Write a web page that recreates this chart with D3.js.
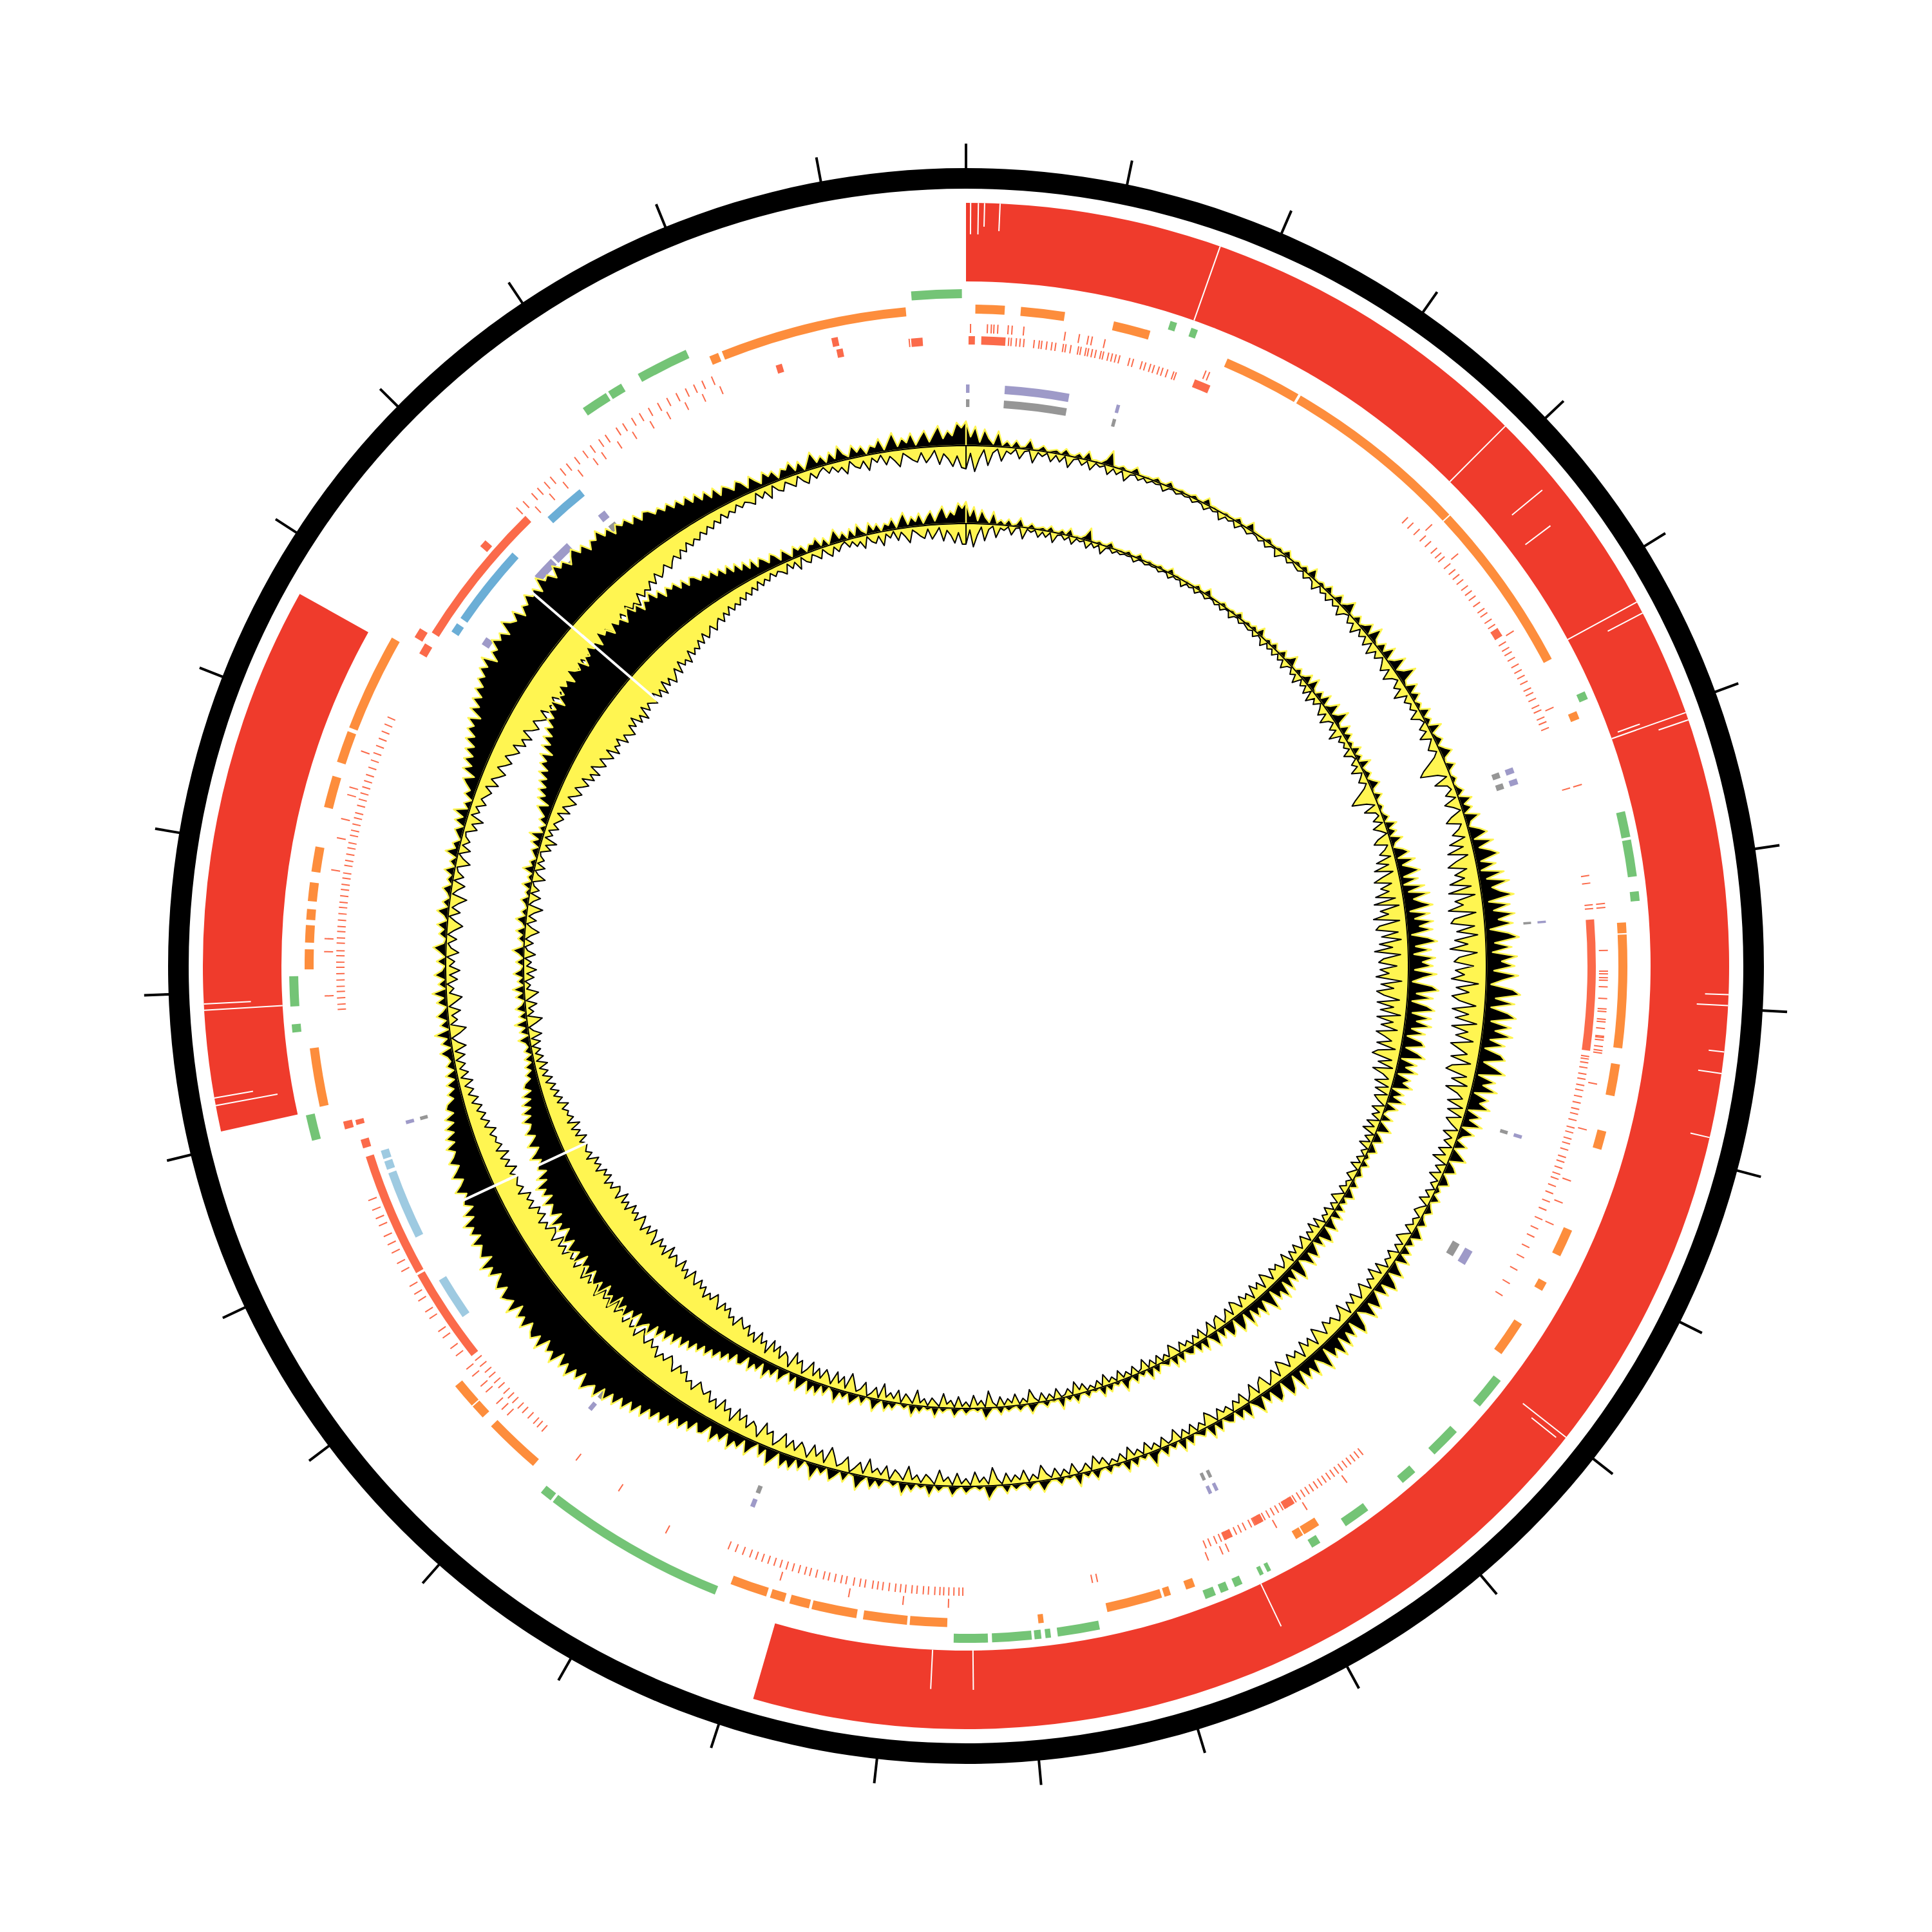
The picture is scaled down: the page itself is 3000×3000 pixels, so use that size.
<!DOCTYPE html>
<html>
<head>
<meta charset="utf-8">
<script src="https://d3js.org/d3.v7.min.js"></script>
<style>
  html, body { margin: 0; padding: 0; background: #fff; }
  svg { display: block; }
</style>
</head>
<body>
<script>
// genome length and tick spacing, kb
var genomeLen = 3090;
var tickStep = 100;

// blast hit band: blocks and missing hairlines [kb, from, to] (fraction of band depth)
var redBlocks = [[0, 1684], [2210, 2568]];
var redGaps = [[3,0.6,1],[8,0.6,1],[12,0.7,1],[22,0.65,1],[167,0,1],[386,0,1],[433,0.3,0.8],[455,0.2,0.6],
  [528,0,1],[536,0.5,1],[603,0.1,0.4],[606,0,1],[611,0.6,1],[791,0.7,1],[798,0.6,1],[828,0.8,1],[842,0.7,1],
  [884,0.75,1],[1100,0.3,1],[1104,0.5,0.9],[1326,0,0.6],[1540,0,0.5],[1569,0,0.5],[2227,0.2,1],[2232,0.5,1],
  [2289,0,1],[2293,0.4,1]];

var greenBlocks = [[3050,3087],[151,156],[167,172],[567,573],[659,678],[680,707],[718,725],[1097,1121],[1146,1169],
  [1188,1200],[1232,1252],[1274,1281],[1315,1318],[1321,1324],[1338,1344],[1349,1355],[1359,1367],[1447,1478],
  [1483,1487],[1490,1495],[1497,1526],[1529,1554],[1732,1868],[1870,1879],[2189,2208],[2269,2275],[2288,2310],
  [2794,2814],[2816,2827],[2841,2880]];

var orangeBlocks = [[7,29],[41,74],[111,139],[200,259],[261,403],[404,535],[578,584],[740,748],[749,834],[846,870],
  [897,911],[975,996],[1018,1025],[1054,1081],[1268,1281],[1282,1288],[1371,1378],[1390,1395],[1397,1439],[1487,1491],
  [1559,1587],[1589,1622],[1627,1661],[1663,1678],[1682,1693],[1696,1724],[1896,1939],[1948,1959],[1960,1979],
  [2212,2256],[2315,2330],[2335,2348],[2352,2360],[2366,2380],[2388,2407],[2437,2461],[2472,2496],[2499,2573],
  [2894,2901],[2904,3045]];

var tomatoOuterBlocks = [[2191,2197],[2582,2590],[2668,2674],[2986,2991]];
var tomatoOuterTicks = [3,16,19,21,24,32,35,44,76,87,94,97,107,188,191,399,429,502,568,631,724,727,
  760,776,778,781,783,788,797,805,807,813,815,820,826,827,829,834,837,839,863,899,940,958,976,
  1232,1269,1296,1337,1342,1354,1558,1593,1635,1689,1784,
  1936,1942,1948,1960,1966,1976,1983,1996,2003,2013,2019,2031,2037,2047,2053,2060,2073,2080,2089,2096,2103,2112,2118,2125,2133,
  2294,2328,2338,2391,2416,2431,2450,2456,2485,
  2708,2715,2724,2730,2737,2743,2753,2759,2767,2775,2782,2790,2796,2806,2812,2820,2827,2835,2843,2851,2859,2867,2874,2881,2889];

var tomatoInnerBlocks = [[2,7],[12,31],[183,196],[494,501],[736,839],[1275,1284],[1303,1310],[1330,1337],
  [1989,2065],[2067,2166],[2173,2180],[2192,2196],[2573,2582],[2592,2709],[2939,2944],[2988,2993],[3047,3056]];
var tomatoInnerTicks = [33,35,39,42,45,53,57,59,63,67,70,76,78,82,88,90,94,96,99,102,106,108,112,115,118,121,129,132,
  139,142,146,149,153,156,160,165,167,
  382,388,395,402,408,415,420,424,431,437,442,447,453,458,463,469,475,479,485,490,494,500,506,511,515,520,526,531,536,
  541,547,551,556,562,566,572,576,581,631,701,707,724,727,
  843,845,848,852,857,861,866,870,875,880,885,889,894,900,904,909,913,918,924,928,933,938,942,948,954,961,968,976,984,
  991,1000,1009,1020,1032,1043,
  1209,1213,1217,1221,1225,1229,1233,1237,1241,1245,1249,1253,1257,1261,1265,1269,1273,1277,1281,1285,1289,1293,1297,
  1301,1305,1310,1313,1318,1322,1326,1330,1335,1339,1343,1348,1352,1441,1445,
  1547,1550,1554,1558,1562,1565,1569,1574,1578,1583,1587,1592,1596,1600,1605,1610,1614,1618,1624,1628,1633,1639,1643,
  1648,1653,1657,1663,1668,1672,1677,1682,1687,1692,1697,1702,1707,1712,1717,1723,1729,1735,1832,1873,
  1908,1913,1917,1923,1929,1934,1940,1945,1950,1956,1961,1967,1972,1978,1984,
  2283,2287,2292,2297,2301,2306,2311,2316,2320,2325,2329,2335,2339,2344,2348,2353,2358,2363,2367,2372,2377,2381,2386,
  2390,2396,2400,2405,2410,2414,2420,2424,2429,2434,2438,2444,2449,2454,2459,2464,2469,2475,2481,2487,2493,2499,2505,
  2511,2517,2719,2734,2748,2763,2778,2786,2801,2815,2831,2846,2862,2877,2892,3045];

var blueBlocks = [[2601,2609],[2614,2681],[2721,2755]];
var lightBlueBlocks = [[2018,2053],[2092,2148],[2151,2158],[2160,2167]];

var purpleBlocks = [[0,3],[33,88],[129,132],[601,606],[611,616],[734,736],[918,921],[1025,1038],[1324,1327],[1330,1333],
  [1728,1732],[1889,1893],[2182,2185],[2606,2613],[2679,2699],[2701,2718],[2753,2760]];
var grayBlocks = [[0,3],[33,88],[129,132],[601,606],[611,616],[734,736],[918,921],[1025,1037],[1324,1327],[1330,1333],
  [1728,1732],[1889,1893],[2182,2185],[2606,2613],[2679,2698],[2701,2717],[2754,2761]];

// skew plots: outward / inward extent (px) per 1/720 of the genome, one row = 10 bins
var skewOuterPos = [
38,14,30,6,26,12,4,24,3,10, 2,12,3,4,16,2,3,9,2,4, 6,2,10,3,2,8,2,14,2,3, 2,8,24,3,2,6,2,3,11,2,
2,3,2,7,2,2,9,2,2,4, 2,2,6,2,2,11,2,3,2,2, 4,2,2,8,2,2,13,3,2,2, 2,7,2,2,5,2,10,2,2,6,
2,8,2,15,3,2,6,2,11,2, 3,13,2,8,19,3,2,11,2,7, 17,3,23,6,2,14,4,21,2,9, 25,4,12,29,6,3,18,4,14,2,
8,2,16,3,10,2,20,3,6,12, 2,9,18,4,2,14,3,2,8,2, 5,12,2,20,6,16,3,24,8,4, 18,28,6,34,10,26,38,8,30,6,
40,12,46,18,30,50,10,42,16,48, 22,44,8,36,52,14,40,10,48,24, 44,12,50,26,8,42,54,16,46,10, 36,50,12,44,20,48,14,38,8,34,
42,10,30,46,6,34,16,40,6,30, 18,36,4,26,10,32,3,24,8,3, 20,2,14,26,2,12,18,2,10,16, 2,8,2,14,2,6,12,2,5,13,
2,10,18,3,12,2,16,4,22,2, 12,26,4,20,30,6,24,3,16,28, 8,32,14,4,26,36,6,28,12,34, 10,38,18,30,6,40,22,10,34,14,
28,8,36,6,24,32,4,22,28,6, 20,4,28,12,3,24,6,18,2,14, 10,2,18,4,22,2,12,6,2,16, 3,20,2,10,2,16,3,8,24,2,
8,2,14,3,18,2,6,2,12,2, 4,16,2,9,2,20,2,5,2,12, 3,2,8,18,2,4,12,2,4,10, 2,14,3,2,10,22,2,7,2,5,
12,2,6,16,2,3,10,2,18,3, 7,2,13,4,20,2,9,3,2,14, 5,18,2,10,24,4,2,16,3,12, 20,3,14,6,26,8,2,18,4,22,
10,24,4,16,28,6,20,3,12,26, 6,22,14,30,8,24,16,32,10,26, 28,16,34,22,38,26,42,30,46,34, 50,38,56,42,60,46,64,50,68,54,
72,56,78,62,70,82,58,76,64,84, 66,80,60,86,70,78,62,88,68,82, 76,64,84,68,78,60,86,66,74,80, 62,78,70,58,76,64,82,56,72,66,
60,74,54,68,58,72,50,64,44,56, 52,44,60,48,40,56,46,38,52,42, 36,48,32,44,28,40,24,36,20,30, 26,14,22,10,20,6,18,4,14,6,
10,20,3,16,6,24,2,14,4,18, 8,2,16,5,22,2,12,3,18,6, 2,14,2,10,20,4,2,12,5,16, 2,7,18,3,11,2,6,14,2,9,
4,16,2,10,3,20,6,12,2,8, 14,3,18,7,24,4,12,2,16,9, 18,26,10,32,20,36,24,40,28,46, 34,50,42,56,38,60,48,64,52,68,
58,72,64,78,68,84,60,76,70,86, 74,82,68,90,78,72,86,66,80,74, 88,76,84,70,92,78,82,68,86,74, 80,66,76,84,70,78,62,74,68,80,
64,72,56,68,60,66,52,62,48,58, 54,44,50,40,48,36,44,32,42,28, 38,24,34,20,32,16,28,22,14,26, 20,8,24,14,6,22,12,18,4,16,
12,22,6,18,3,14,26,8,16,4, 18,6,24,10,4,20,8,16,3,14, 10,22,4,16,28,6,18,10,24,5, 16,26,8,20,32,12,24,16,36,28];
var skewOuterNeg = [
36,12,40,20,6,30,10,4,22,6, 10,2,16,4,2,20,3,8,2,14, 3,12,2,18,4,2,10,2,14,2, 6,2,14,3,10,2,16,4,2,8,
2,7,2,4,2,10,3,2,6,2, 4,2,7,2,3,9,2,5,2,12, 3,6,2,10,2,4,8,2,3,7, 2,9,3,2,12,4,2,8,2,5,
7,2,10,3,5,14,2,9,4,12, 3,10,4,16,6,2,12,5,18,3, 12,4,16,3,20,6,14,3,10,18, 6,22,10,4,16,8,24,5,14,6,
12,4,18,6,2,14,6,20,4,10, 16,5,12,24,36,44,18,6,28,10, 6,18,4,24,12,3,20,30,8,14, 26,8,34,14,40,10,30,44,16,36,
22,46,14,50,10,42,30,54,12,46, 52,16,44,12,48,28,56,14,42,50, 20,48,34,54,12,46,26,52,40,14, 50,24,44,10,48,22,40,12,46,32,
18,42,10,38,46,12,34,8,40,20, 10,32,6,28,4,26,16,3,24,8, 18,3,22,8,26,2,16,4,20,3, 12,2,14,4,18,2,10,16,3,11,
6,16,2,12,20,4,14,2,18,8, 14,3,22,6,26,10,18,4,24,14, 6,24,10,20,4,28,14,8,22,16, 26,8,20,30,6,24,14,28,5,22,
14,26,8,20,28,6,22,12,4,24, 18,4,24,10,2,20,8,16,2,14, 8,18,2,14,22,4,12,2,16,3, 14,2,20,6,3,16,2,12,4,18,
2,12,5,20,2,14,3,10,2,16, 8,22,2,14,5,2,18,3,12,2, 16,3,10,24,4,12,2,20,6,14, 4,18,2,10,28,3,14,6,22,2,
12,4,20,2,14,7,24,2,10,16, 3,14,6,26,4,12,18,2,22,7, 16,8,28,4,20,10,2,24,12,6, 20,32,6,24,12,28,6,18,26,10,
24,10,30,16,6,26,18,34,8,22, 28,14,32,20,36,12,30,22,38,18, 32,22,38,28,34,42,24,36,30,44, 36,46,30,42,50,36,44,32,48,40,
52,38,46,56,36,50,42,58,40,48, 54,42,60,38,52,44,56,36,50,58, 42,54,38,50,58,40,52,44,56,38, 50,40,56,36,48,52,38,46,34,50,
40,48,32,44,36,46,28,40,32,36, 40,30,44,28,38,26,42,24,36,28, 32,24,36,20,30,18,28,16,26,12, 24,10,20,8,22,5,18,6,16,3,
18,4,22,10,2,16,26,3,14,6, 20,3,14,24,5,12,2,18,6,22, 6,14,2,20,8,3,16,2,12,24, 12,2,18,5,14,26,3,10,20,2,
16,6,3,22,10,2,18,4,14,6, 4,20,10,26,5,16,8,22,12,18, 24,12,30,16,26,34,18,28,36,22, 32,40,26,44,34,48,30,42,50,36,
46,54,38,58,46,52,42,60,48,56, 62,46,56,42,60,50,64,44,58,48, 54,60,44,58,48,62,42,56,46,60, 52,42,56,38,50,44,54,36,48,40,
46,34,44,30,42,36,28,40,32,26, 36,24,32,20,30,22,28,18,26,16, 24,14,22,10,20,12,18,8,16,10, 14,20,5,16,8,22,4,14,18,6,
12,18,4,14,20,6,16,8,3,14, 6,16,10,22,4,14,18,8,24,6, 14,4,20,8,16,26,6,12,18,22, 8,24,16,6,28,12,20,32,16,34];
var skewInnerPos = [
34,12,26,5,22,10,3,20,3,8, 2,10,2,4,14,2,2,8,2,3, 5,2,9,2,2,7,2,12,2,3, 2,7,20,3,2,5,2,3,9,2,
2,3,2,6,2,2,8,2,2,4, 2,2,5,2,2,9,2,3,2,2, 3,2,2,7,2,2,11,3,2,2, 2,6,2,2,4,2,9,2,2,5,
2,7,2,13,3,2,6,2,9,2, 3,11,2,7,17,3,2,9,2,6, 15,3,19,5,2,12,4,18,2,8, 21,4,10,25,5,3,16,4,12,2,
7,2,14,3,9,2,18,3,5,10, 2,8,16,4,2,12,3,2,7,2, 4,10,2,18,5,14,3,20,7,3, 16,24,5,30,9,22,34,7,28,5,
36,10,42,16,28,44,8,38,14,42, 20,40,7,32,46,12,36,9,42,22, 38,10,44,22,7,38,48,14,40,8, 32,44,10,40,18,42,12,34,7,30,
36,8,28,40,5,30,14,34,5,26, 16,32,3,22,8,28,3,20,6,2, 18,2,12,22,2,10,16,2,8,14, 2,7,2,12,2,5,10,2,4,12,
2,9,16,3,10,2,14,3,18,2, 10,22,3,18,26,5,20,3,14,24, 7,28,12,4,22,32,5,24,10,30, 8,34,16,26,5,36,20,8,30,12,
24,7,32,5,20,28,3,18,24,5, 18,3,24,10,2,20,5,16,2,12, 9,2,16,3,18,2,10,5,2,14, 3,18,2,8,2,14,3,7,20,2,
7,2,12,3,16,2,5,2,10,2, 3,14,2,8,2,18,2,4,2,10, 3,2,7,16,2,4,10,2,4,8, 2,12,3,2,9,18,2,6,2,4,
10,2,5,14,2,3,8,2,16,3, 6,2,11,4,18,2,8,3,2,12, 5,16,2,8,20,4,2,14,3,10, 18,3,12,5,22,7,2,16,4,20,
8,22,4,14,24,5,18,3,10,22, 5,20,12,28,7,22,14,28,9,24, 26,14,30,20,34,24,38,28,42,30, 44,34,50,38,54,40,58,44,62,48,
66,50,72,56,64,76,52,70,58,78, 60,74,54,80,64,72,56,82,62,76, 70,58,78,62,72,54,80,60,68,74, 56,72,64,52,70,58,76,50,66,60,
54,68,48,62,52,66,44,58,38,50, 46,38,54,42,34,50,40,32,46,36, 32,44,28,40,24,36,20,32,16,26, 22,12,18,8,16,5,14,3,12,5,
8,18,2,14,5,20,2,12,3,16, 6,2,14,4,18,2,10,3,16,5, 2,12,2,8,18,3,2,10,4,14, 2,6,16,3,9,2,5,12,2,7,
3,14,2,8,3,18,5,10,2,7, 12,3,16,6,22,3,10,2,14,8, 16,24,8,28,18,32,22,36,26,42, 30,46,38,52,34,56,44,60,48,64,
54,68,60,74,64,80,56,72,66,82, 70,78,64,86,74,68,82,62,76,70, 84,72,80,66,88,74,78,64,82,70, 76,62,72,80,66,74,58,70,64,76,
60,68,52,64,56,62,48,58,44,54, 50,40,46,36,44,32,40,28,38,24, 34,20,30,16,28,12,24,18,10,22, 16,6,20,12,4,18,10,14,3,12,
10,18,4,14,2,12,22,6,14,3, 16,4,20,8,3,18,6,14,2,12, 8,18,3,14,24,5,16,8,20,4, 14,22,6,18,28,10,20,14,32,24];
var skewInnerNeg = [
32,10,36,18,5,26,8,3,20,5, 8,2,14,3,2,18,2,6,2,12, 3,10,2,16,3,2,8,2,12,2, 5,2,12,2,8,2,14,3,2,7,
2,5,2,3,2,8,2,2,5,2, 3,2,6,2,2,8,2,4,2,10, 2,5,2,8,2,3,7,2,2,6, 2,8,2,2,10,3,2,7,2,4,
6,2,9,2,4,12,2,8,3,10, 2,9,3,14,5,2,10,4,16,2, 10,3,14,2,18,5,12,2,8,16, 5,20,8,3,14,6,22,4,12,5,
10,3,16,5,2,12,5,18,3,8, 14,4,10,20,30,38,16,5,24,8, 5,16,3,20,10,2,18,26,6,12, 22,6,30,12,36,8,26,40,14,32,
20,42,12,46,8,38,26,50,10,42, 48,14,40,10,44,24,52,12,38,46, 18,44,30,50,10,42,22,48,36,12, 46,20,40,8,44,18,36,10,42,28,
16,38,8,34,42,10,30,6,36,18, 8,28,5,24,3,22,14,2,20,6, 16,2,20,6,22,2,14,3,18,2, 10,2,12,3,16,2,8,14,2,9,
5,14,2,10,18,3,12,2,16,6, 12,2,20,5,22,8,16,3,20,12, 5,20,8,18,3,24,12,6,20,14, 22,6,18,26,5,20,12,24,4,18,
12,22,6,18,24,5,20,10,3,20, 16,3,20,8,2,18,6,14,2,12, 6,16,2,12,20,3,10,2,14,2, 12,2,18,5,2,14,2,10,3,16,
2,10,4,18,2,12,2,8,2,14, 6,20,2,12,4,2,16,2,10,2, 14,2,8,22,3,10,2,18,5,12, 3,16,2,8,26,2,12,5,20,2,
10,3,18,2,12,6,22,2,8,14, 2,12,5,24,3,10,16,2,20,6, 14,6,26,3,18,8,2,22,10,5, 18,30,5,22,10,26,5,16,24,8,
22,8,28,14,5,24,16,32,6,20, 26,12,30,18,34,10,28,20,36,16, 30,20,36,26,32,40,22,34,28,42, 34,44,28,40,48,34,42,30,46,38,
50,36,44,54,34,48,40,56,38,46, 52,40,58,36,50,42,54,34,48,56, 40,52,36,48,56,38,50,42,54,36, 48,38,54,34,46,50,36,44,32,48,
38,46,30,42,34,44,26,38,30,34, 38,28,42,26,36,24,40,22,34,26, 30,22,34,18,28,16,26,14,24,10, 22,8,18,6,20,4,16,5,14,2,
16,3,20,8,2,14,24,2,12,5, 18,2,12,22,4,10,2,16,5,20, 5,12,2,18,6,2,14,2,10,22, 10,2,16,4,12,24,2,8,18,2,
14,5,2,20,8,2,16,3,12,5, 3,18,8,24,4,14,6,20,10,16, 22,10,28,14,24,32,16,26,34,20, 30,38,24,42,32,46,28,40,48,34,
44,52,36,56,44,50,40,58,46,54, 60,44,54,40,58,48,62,42,56,46, 52,58,42,56,46,60,40,54,44,58, 50,40,54,36,48,42,52,34,46,38,
44,32,42,28,40,34,26,38,30,24, 34,22,30,18,28,20,26,16,24,14, 22,12,20,8,18,10,16,6,14,8, 12,18,4,14,6,20,3,12,16,5,
10,16,3,12,18,5,14,6,2,12, 5,14,8,20,3,12,16,6,22,5, 12,3,18,6,14,24,5,10,16,20, 6,22,14,5,26,10,18,30,14,32];
var skewBreaks = [2103, 2667];

var width = 3000, height = 3000;
var yellow = "#fff551";

var svg = d3.select("body").append("svg")
    .attr("width", width)
    .attr("height", height);
var g = svg.append("g")
    .attr("transform", "translate(" + width / 2 + "," + height / 2 + ")");

var angle = d3.scaleLinear().domain([0, genomeLen]).range([0, 2 * Math.PI]);
var arc = d3.arc();

function drawBlocks(data, r0, r1, color) {
    g.append("g").selectAll("path")
        .data(data)
        .enter().append("path")
        .attr("d", function (d) {
            return arc({innerRadius: r0, outerRadius: r1, startAngle: angle(d[0]), endAngle: angle(d[1])});
        })
        .attr("fill", color);
}

function drawTicks(data, r0, r1, color) {
    g.append("g").selectAll("path")
        .data(data)
        .enter().append("path")
        .attr("d", function (d) {
            return arc({innerRadius: r0, outerRadius: r1, startAngle: angle(d), endAngle: angle(d + 1)});
        })
        .attr("fill", color);
}

function radial(a, r) {
    return [Math.sin(a) * r, -Math.cos(a) * r];
}

// outer ideogram ring + ticks
g.append("path")
    .attr("d", arc({innerRadius: 1207, outerRadius: 1239, startAngle: 0, endAngle: 2 * Math.PI}))
    .attr("fill", "#000");
g.append("g").selectAll("line")
    .data(d3.range(0, genomeLen, tickStep))
    .enter().append("line")
    .attr("x1", function (d) { return radial(angle(d), 1236)[0]; })
    .attr("y1", function (d) { return radial(angle(d), 1236)[1]; })
    .attr("x2", function (d) { return radial(angle(d), 1277)[0]; })
    .attr("y2", function (d) { return radial(angle(d), 1277)[1]; })
    .attr("stroke", "#000")
    .attr("stroke-width", 4);

// blast band
var redIn = 1063, redOut = 1185;
drawBlocks(redBlocks, redIn, redOut, "#ef3b2c");
g.append("g").selectAll("line")
    .data(redGaps)
    .enter().append("line")
    .attr("x1", function (d) { return radial(angle(d[0]), redIn + d[1] * (redOut - redIn))[0]; })
    .attr("y1", function (d) { return radial(angle(d[0]), redIn + d[1] * (redOut - redIn))[1]; })
    .attr("x2", function (d) { return radial(angle(d[0]), redIn + d[2] * (redOut - redIn))[0]; })
    .attr("y2", function (d) { return radial(angle(d[0]), redIn + d[2] * (redOut - redIn))[1]; })
    .attr("stroke", "#fff")
    .attr("stroke-width", 2);

drawBlocks(greenBlocks, 1037, 1051, "#74c476");
drawBlocks(orangeBlocks, 1013, 1027, "#fd8d3c");
drawBlocks(tomatoOuterBlocks, 983, 997, "#fb6a4a");
drawTicks(tomatoOuterTicks, 983, 997, "#fb6a4a");
drawBlocks(tomatoInnerBlocks, 965, 978, "#fb6a4a");
drawTicks(tomatoInnerTicks, 965, 978, "#fb6a4a");
drawBlocks(blueBlocks, 940, 953, "#6baed6");
drawBlocks(lightBlueBlocks, 940, 953, "#9ecae1");
drawBlocks(purpleBlocks, 890, 903, "#9e9ac8");
drawBlocks(grayBlocks, 868, 880, "#969696");

function drawSkew(pos, neg, base) {
    var n = pos.length, bin = genomeLen / n;
    var idx = d3.range(n + 1);
    var outward = d3.areaRadial()
        .angle(function (i) { return angle(i * bin); })
        .innerRadius(base)
        .outerRadius(function (i) { return base + pos[i % n]; });
    var inward = d3.areaRadial()
        .angle(function (i) { return angle(i * bin); })
        .innerRadius(function (i) { return base - neg[i % n]; })
        .outerRadius(base);
    g.append("path")
        .attr("d", outward(idx))
        .attr("fill", "#000")
        .attr("stroke", yellow)
        .attr("stroke-width", 2.5)
        .attr("stroke-linejoin", "round");
    g.append("path")
        .attr("d", inward(idx))
        .attr("fill", yellow)
        .attr("stroke", "#000")
        .attr("stroke-width", 2)
        .attr("stroke-linejoin", "round");
    g.append("g").selectAll("line")
        .data(skewBreaks)
        .enter().append("line")
        .attr("x1", function (d) { return radial(angle(d), base - 100)[0]; })
        .attr("y1", function (d) { return radial(angle(d), base - 100)[1]; })
        .attr("x2", function (d) { return radial(angle(d), base + 100)[0]; })
        .attr("y2", function (d) { return radial(angle(d), base + 100)[1]; })
        .attr("stroke", "#fff")
        .attr("stroke-width", 4);
}

drawSkew(skewOuterPos, skewOuterNeg, 808);
drawSkew(skewInnerPos, skewInnerNeg, 687);
</script>
</body>
</html>
